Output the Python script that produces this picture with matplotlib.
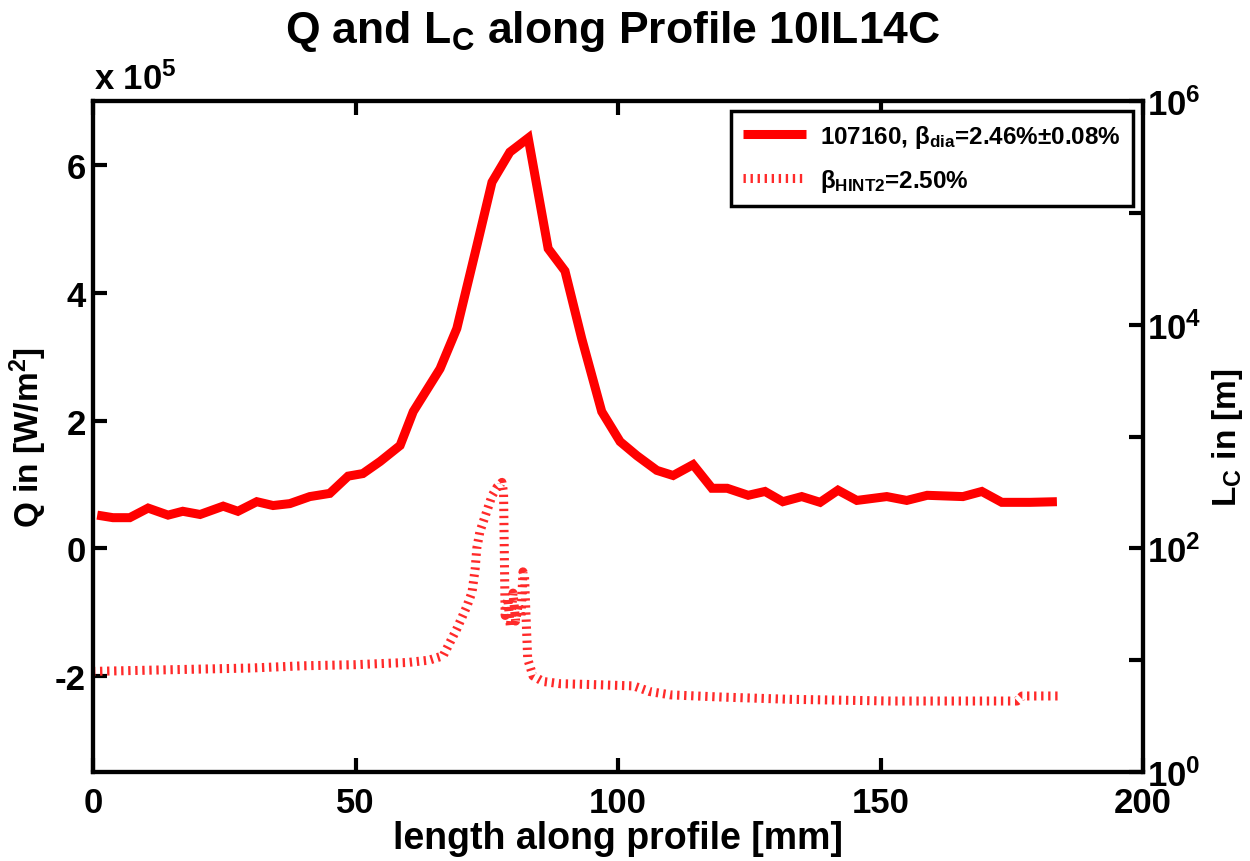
import numpy as np
import matplotlib
matplotlib.use("Agg")
import matplotlib.pyplot as plt
from matplotlib.ticker import FixedLocator, FuncFormatter, NullLocator

plt.rcParams['font.family'] = ['Liberation Sans', 'DejaVu Sans']
plt.rcParams['font.weight'] = 'bold'
plt.rcParams['mathtext.fontset'] = 'custom'
plt.rcParams['mathtext.rm'] = 'Liberation Sans:bold'
plt.rcParams['mathtext.it'] = 'Liberation Sans:bold'
plt.rcParams['mathtext.bf'] = 'Liberation Sans:bold'

# heat flux Q along the profile (x in mm, Q in 1e5 W/m^2)
q_pos = [0.8, 3.8, 7.0, 10.5, 14.3, 17.1, 20.4, 24.8, 27.6, 31.2, 34.3, 37.5,
         41.3, 45.1, 48.6, 51.4, 54.7, 58.5, 61.0, 66.1, 69.3, 73.1, 76.0,
         79.4, 82.9, 86.7, 89.9, 93.1, 96.9, 100.4, 103.6, 107.4, 110.5,
         114.3, 117.9, 120.8, 124.8, 128.0, 131.4, 135.0, 138.5, 141.9,
         145.5, 151.2, 155.0, 158.9, 165.7, 169.3, 173.1, 178.5, 183.6]
q_val = [0.52, 0.48, 0.48, 0.63, 0.52, 0.58, 0.53, 0.66, 0.58, 0.73, 0.67, 0.70,
         0.81, 0.86, 1.13, 1.17, 1.36, 1.61, 2.14, 2.81, 3.44, 4.73, 5.73,
         6.20, 6.42, 4.69, 4.34, 3.28, 2.14, 1.67, 1.45, 1.22, 1.14,
         1.31, 0.94, 0.94, 0.83, 0.89, 0.73, 0.81, 0.72, 0.91,
         0.75, 0.81, 0.75, 0.83, 0.81, 0.89, 0.72, 0.72, 0.73]

# connection length L_C (x in mm, log10 of L_C in m)
lc_pos = [0, 10, 20, 30, 40, 50, 60, 64, 66.7, 69.3, 71.2, 72.2, 72.8, 73.1,
          73.7, 75.0, 76.0, 77.0, 77.9, 78.2, 78.5, 79.0, 79.5, 80.0, 80.5,
          81.0, 81.5, 81.9, 82.2, 82.5, 82.8, 83.8, 85.7, 89.0, 96.6, 103.0,
          106.0, 110.0, 120.0, 133.0, 152.0, 176.0, 177.0, 184.0]
lc_log = [0.90, 0.91, 0.92, 0.93, 0.95, 0.96, 0.98, 1.00, 1.04, 1.28, 1.48, 1.61,
          1.82, 2.00, 2.15, 2.33, 2.47, 2.55, 2.59, 2.50, 1.40, 1.55, 1.30, 1.60,
          1.35, 1.50, 1.38, 1.79, 1.75, 1.37, 1.01, 0.86, 0.81, 0.79, 0.78, 0.77,
          0.72, 0.69, 0.67, 0.65, 0.635, 0.635, 0.68, 0.68]

fig = plt.figure(figsize=(12.5, 8.62), dpi=100)
ax1 = fig.add_axes([0.0744, 0.1032, 0.84, 0.7785])
ax2 = ax1.twinx()

l1, = ax1.plot(q_pos, np.array(q_val) * 1e5, color='#ff0000', lw=6.5,
               solid_joinstyle='miter', solid_capstyle='butt')
l2, = ax2.plot(lc_pos, 10 ** np.array(lc_log), color='#ff2a2a', lw=6.5,
               dashes=(0.26, 0.52), dash_capstyle='butt')

ax1.set_xlim(0, 200)
ax1.set_ylim(-3.5e5, 7e5)
ax1.set_yticks([-2e5, 0, 2e5, 4e5, 6e5])
ax1.yaxis.set_major_formatter(FuncFormatter(lambda v, p: f"{v / 1e5:.0f}"))
ax1.set_xticks([0, 50, 100, 150, 200])

ax2.set_yscale('log')
ax2.set_ylim(1, 1e6)
ax2.yaxis.set_major_locator(FixedLocator([10.0 ** k for k in range(7)]))
ax2.yaxis.set_minor_locator(NullLocator())
ax2.yaxis.set_major_formatter(FuncFormatter(
    lambda v, p: f"$10^{{{int(round(np.log10(v)))}}}$" if round(np.log10(v)) % 2 == 0 else ""))

for a in (ax1, ax2):
    for s in a.spines.values():
        s.set_linewidth(3)
    a.tick_params(direction='in', width=3, length=10, labelsize=25, pad=5)
ax1.tick_params(top=True)
ax1.tick_params(axis='x', pad=10)
ax2.tick_params(pad=3)

ax1.set_xlabel('length along profile [mm]', fontsize=27, fontweight='bold', labelpad=1)
ax1.set_ylabel('Q in [W/m$^2$]', fontsize=24, fontweight='bold', labelpad=4)
ax2.set_ylabel('L$_C$ in [m]', fontsize=24, fontweight='bold', labelpad=6)
fig.text(0.49, 0.99, 'Q and L$_C$ along Profile 10IL14C', ha='center', va='top',
         fontsize=32, fontweight='bold')
fig.text(0.075, 0.888, r'x 10$^5$', fontsize=25, fontweight='bold', ha='left', va='bottom')

leg = ax2.legend([l1, l2], [r'107160, $\beta_{dia}$=2.46%$\pm$0.08%', r'$\beta_{HINT2}$=2.50%'],
                 loc='upper right', fontsize=17.5, handlelength=2.6, handletextpad=0.6,
                 borderaxespad=0.4, labelspacing=0.7, borderpad=0.5,
                 fancybox=False, framealpha=1, edgecolor='black')
leg.get_frame().set_linewidth(2.5)

fig.savefig('out.png', dpi=100)
